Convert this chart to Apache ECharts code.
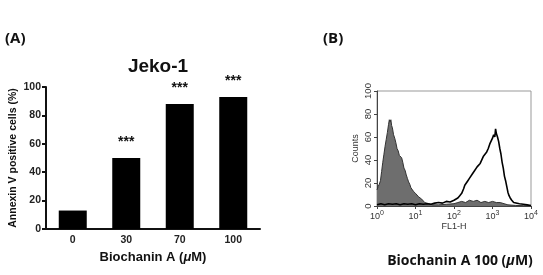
<!DOCTYPE html>
<html>
<head>
<meta charset="utf-8">
<script src="https://cdn.jsdelivr.net/npm/echarts@6/dist/echarts.min.js"></script>
<style>html,body{margin:0;padding:0;background:#fff}#c{width:543px;height:275px}</style>
</head>
<body>
<div id="c"></div>
<script>
// Panel A data
var doseCategories = ['0', '30', '70', '100'];
var annexinValues = [13, 50, 88, 93];
var significance = ['', '***', '***', '***'];
var yTicksA = [0, 20, 40, 60, 80, 100];

// Panel B data: FL1-H position read as log10 exponent, with counts
var grayExp =   [0.00,0.03,0.06,0.09,0.12,0.15,0.18,0.21,0.24,0.27,0.30,0.32,0.34,0.36,0.38,0.40,0.43,0.46,0.49,0.52,0.55,0.58,0.61,0.64,0.67,0.70,0.73,0.76,0.79,0.82,0.85,0.88,0.91,0.94,0.97,1.00,1.04,1.08,1.12,1.16,1.20,1.24,1.28,1.35,1.45,1.60,1.80,2.00,2.10,2.20,2.30,2.40,2.50,2.60,2.70,2.80,2.90,3.00,3.10,3.20,3.30,3.40,3.60,3.80,4.00];
var grayCounts =[14,17,19,22,30,38,45,52,58,64,71,75,73,75,70,68,62,59,55,50,48,44,45,42,38,33,31,27,24,21,19,16,15,13,14,11,10,8,9,6,5,3,2,2,1,1,1.5,2,3,4,3,5,4,5,3,4,3,4,3,3,2,1,0.5,0.3,0];
var blackExp =  [0.00,0.10,0.20,0.30,0.40,0.50,0.60,0.70,0.80,0.90,1.00,1.10,1.20,1.30,1.40,1.50,1.60,1.70,1.80,1.90,2.00,2.05,2.10,2.15,2.20,2.25,2.28,2.32,2.36,2.40,2.44,2.48,2.52,2.56,2.60,2.64,2.68,2.72,2.76,2.80,2.85,2.89,2.93,2.97,3.00,3.03,3.06,3.08,3.10,3.13,3.16,3.19,3.22,3.25,3.28,3.31,3.34,3.37,3.40,3.43,3.46,3.50,3.55,3.60,3.70,3.80,3.90,4.00];
var blackCounts=[1,2,1,2,1.5,2,1,2,1.5,2,1,2,1.5,2,1.5,2.5,3,2.5,4,3.5,5,6,7,9,11,15,18,17,22,24,23,28,30,29,34,33,37,36,43,42,47,50,54,53,59,62,60,67,63,60,56,50,45,38,33,26,22,17,12,9,7,5,3,2.5,2,1.5,1,0.5];
var yTicksB = [0, 20, 40, 60, 80, 100];

function pairs(exps, counts) {
  return exps.map(function (e, i) { return [Math.pow(10, e), counts[i]]; });
}

var chart = echarts.init(document.getElementById('c'), null, {renderer: 'canvas'});
var fA = 'Liberation Sans, Arial, sans-serif';
var fK = '"Open Sans", "Noto Sans", sans-serif';

chart.setOption({
  animation: false,
  backgroundColor: '#fff',
  title: [
    {text: '(A)', left: 0, top: 26, textStyle: {fontFamily: fK, fontSize: 15, fontWeight: 'bold', color: '#111'}},
    {text: 'Jeko-1', left: 153, textAlign: 'center', top: 52, textStyle: {fontFamily: fA, fontSize: 19, fontWeight: 'bold', color: '#111'}},
    {text: '(B)', left: 318, top: 26, textStyle: {fontFamily: fK, fontSize: 15, fontWeight: 'bold', color: '#111'}},
    {text: 'Biochanin A 100 ({i|μ}M)', left: 455, textAlign: 'center', top: 249,
     textStyle: {fontFamily: fK, fontSize: 14, fontWeight: 'bold', color: '#111',
       rich: {i: {fontFamily: fK, fontSize: 14, fontWeight: 'bold', fontStyle: 'italic', color: '#111'}}}}
  ],
  grid: [
    {left: 46, top: 87, width: 214, height: 142},
    {left: 377, top: 91, width: 154, height: 115, show: true, borderColor: '#999', borderWidth: 1}
  ],
  xAxis: [
    {type: 'category', gridIndex: 0, data: doseCategories,
     axisLine: {lineStyle: {color: '#111', width: 2}},
     axisTick: {show: false},
     axisLabel: {fontFamily: fA, fontSize: 10.5, fontWeight: 'bold', color: '#222', margin: 6},
     name: 'Biochanin A ({i|μ}M)', nameLocation: 'middle', nameGap: 22,
     nameTextStyle: {fontFamily: fA, fontSize: 13, fontWeight: 'bold', color: '#111',
       rich: {i: {fontFamily: fA, fontSize: 13, fontWeight: 'bold', fontStyle: 'italic', color: '#111'}}}},
    {type: 'log', gridIndex: 1, logBase: 10, min: 1, max: 10000,
     axisLine: {show: true, onZero: false, lineStyle: {color: '#444', width: 1}},
     axisTick: {show: true, length: 3, lineStyle: {color: '#444'}},
     minorTick: {show: false},
     splitLine: {show: false},
     axisLabel: {fontFamily: fA, fontSize: 9, color: '#333', margin: 4,
       formatter: function (v) { return '10{s|' + Math.round(Math.log10(v)) + '}'; },
       rich: {s: {fontFamily: fA, fontSize: 7, color: '#333', verticalAlign: 'top', padding: [0, 0, 6, 0]}}},
     name: 'FL1-H', nameLocation: 'middle', nameGap: 13,
     nameTextStyle: {fontFamily: fA, fontSize: 9, color: '#333'}}
  ],
  yAxis: [
    {type: 'value', gridIndex: 0, min: 0, max: 100, interval: 20,
     axisLine: {show: true, lineStyle: {color: '#111', width: 2}},
     axisTick: {show: true, length: 4, lineStyle: {color: '#111', width: 2}},
     splitLine: {show: false},
     axisLabel: {fontFamily: fA, fontSize: 10.5, fontWeight: 'bold', color: '#222', margin: 5},
     name: 'Annexin V positive cells (%)', nameLocation: 'middle', nameGap: 27,
     nameTextStyle: {fontFamily: fA, fontSize: 10.5, fontWeight: 'bold', color: '#111'}},
    {type: 'value', gridIndex: 1, min: 0, max: 100, interval: 20,
     axisLine: {show: true, lineStyle: {color: '#444', width: 1}},
     axisTick: {show: true, length: 3, lineStyle: {color: '#444'}},
     splitLine: {show: false},
     axisLabel: {fontFamily: fA, fontSize: 9.5, color: '#333', rotate: 90, margin: 4},
     name: 'Counts', nameLocation: 'middle', nameGap: 17,
     nameTextStyle: {fontFamily: fA, fontSize: 9, color: '#333'}}
  ],
  series: [
    {type: 'bar', xAxisIndex: 0, yAxisIndex: 0, data: annexinValues, barWidth: 28,
     itemStyle: {color: '#000'},
     label: {show: true, position: 'top', distance: 9,
       formatter: function (p) { return significance[p.dataIndex]; },
       fontFamily: fA, fontSize: 14, fontWeight: 'bold', color: '#111'}},
    {type: 'line', xAxisIndex: 1, yAxisIndex: 1, data: pairs(grayExp, grayCounts),
     showSymbol: false, symbol: 'none',
     lineStyle: {color: '#333', width: 1}, areaStyle: {color: '#6e6e6e', opacity: 1}},
    {type: 'line', xAxisIndex: 1, yAxisIndex: 1, data: pairs(blackExp, blackCounts),
     showSymbol: false, symbol: 'none',
     lineStyle: {color: '#000', width: 1.6}}
  ]
});
</script>
</body>
</html>
